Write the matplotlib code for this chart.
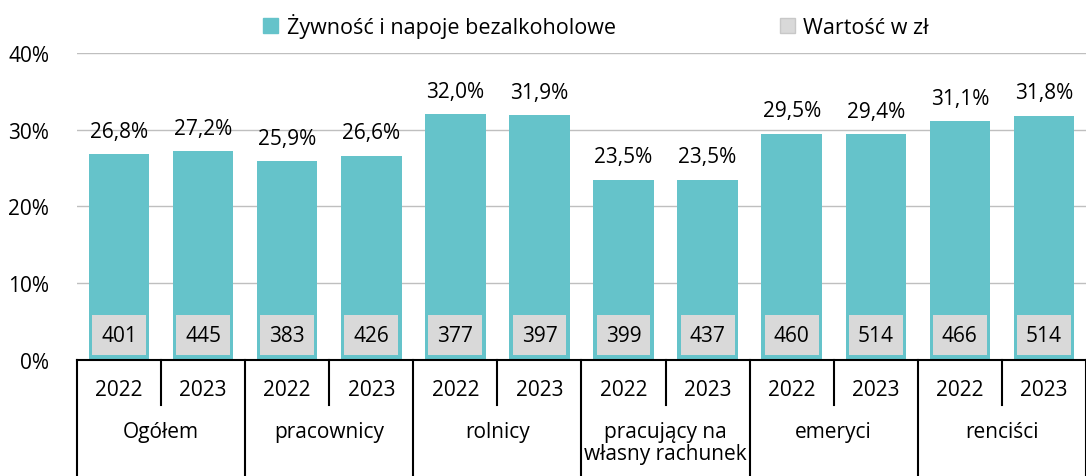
import numpy as np
import matplotlib.pyplot as plt
from matplotlib.patches import Patch
from matplotlib.transforms import blended_transform_factory

plt.rcParams['font.family'] = ['Open Sans', 'DejaVu Sans']

# Data
groups = ['Ogółem', 'pracownicy', 'rolnicy', 'pracujący na\nwłasny rachunek', 'emeryci', 'renciści']
years = ['2022', '2023']
share = [26.8, 27.2, 25.9, 26.6, 32.0, 31.9, 23.5, 23.5, 29.5, 29.4, 31.1, 31.8]
value_zl = [401, 445, 383, 426, 377, 397, 399, 437, 460, 514, 466, 514]

teal = '#65c3ca'
grey = '#d9d9d9'
fs = 15

fig = plt.figure(figsize=(10.86, 4.77), dpi=100)
ax = fig.add_axes([0.0709, 0.2432, 0.9291, 0.6436])

x = np.arange(len(share))
ax.bar(x, share, width=0.72, color=teal, zorder=2)

for xi, s in zip(x, share):
    ax.annotate(f'{s:.1f}%'.replace('.', ','), (xi, s), xytext=(0, 9),
                textcoords='offset points', ha='center', va='bottom', fontsize=fs)

# grey value boxes inside bars
ax.bar(x, 5.2, bottom=0.65, width=0.64, color=grey, zorder=3)
for xi, v in zip(x, value_zl):
    ax.text(xi, 3.25, str(v), ha='center', va='center', fontsize=fs, zorder=4)

ax.set_xlim(-0.5, len(share) - 0.5)
ax.set_ylim(0, 40)
ax.set_yticks([0, 10, 20, 30, 40])
ax.set_yticklabels([f'{t}%' for t in [0, 10, 20, 30, 40]], fontsize=fs)
ax.tick_params(axis='y', length=0, pad=20)
ax.yaxis.grid(True, color='#bfbfbf', lw=1, zorder=0)
ax.set_axisbelow(True)
ax.set_xticks([])
for sp in ['top', 'right', 'left']:
    ax.spines[sp].set_visible(False)
ax.spines['bottom'].set_color('black')
ax.spines['bottom'].set_linewidth(1.5)

# category axis with separators
tr = blended_transform_factory(ax.transData, ax.transAxes)
bottom_frac = -0.3779
for g in range(len(groups) + 1):
    xb = g * 2 - 0.5
    ax.plot([xb, xb], [0, bottom_frac], transform=tr, color='black', lw=1.5, clip_on=False)
for g in range(len(groups)):
    xm = g * 2 + 0.5
    ax.plot([xm, xm], [0, -0.1466], transform=tr, color='black', lw=1.5, clip_on=False)
    for k, yr in enumerate(years):
        ax.text(g * 2 + k, -0.095, yr, transform=tr, ha='center', va='center', fontsize=fs)
    ax.text(xm, -0.2, groups[g], transform=tr, ha='center', va='top', fontsize=fs,
            linespacing=1.05)

handles = [Patch(color=teal, label='Żywność i napoje bezalkoholowe'),
           Patch(facecolor=grey, edgecolor='#c8c8c8', label='Wartość w zł')]
fig.legend(handles=handles, loc='center', bbox_to_anchor=(0.549, 0.945), ncol=2,
           frameon=False, fontsize=15.5, handlelength=0.7, handleheight=0.7,
           handletextpad=0.4, columnspacing=7.6)

fig.savefig('out.png', dpi=100)
